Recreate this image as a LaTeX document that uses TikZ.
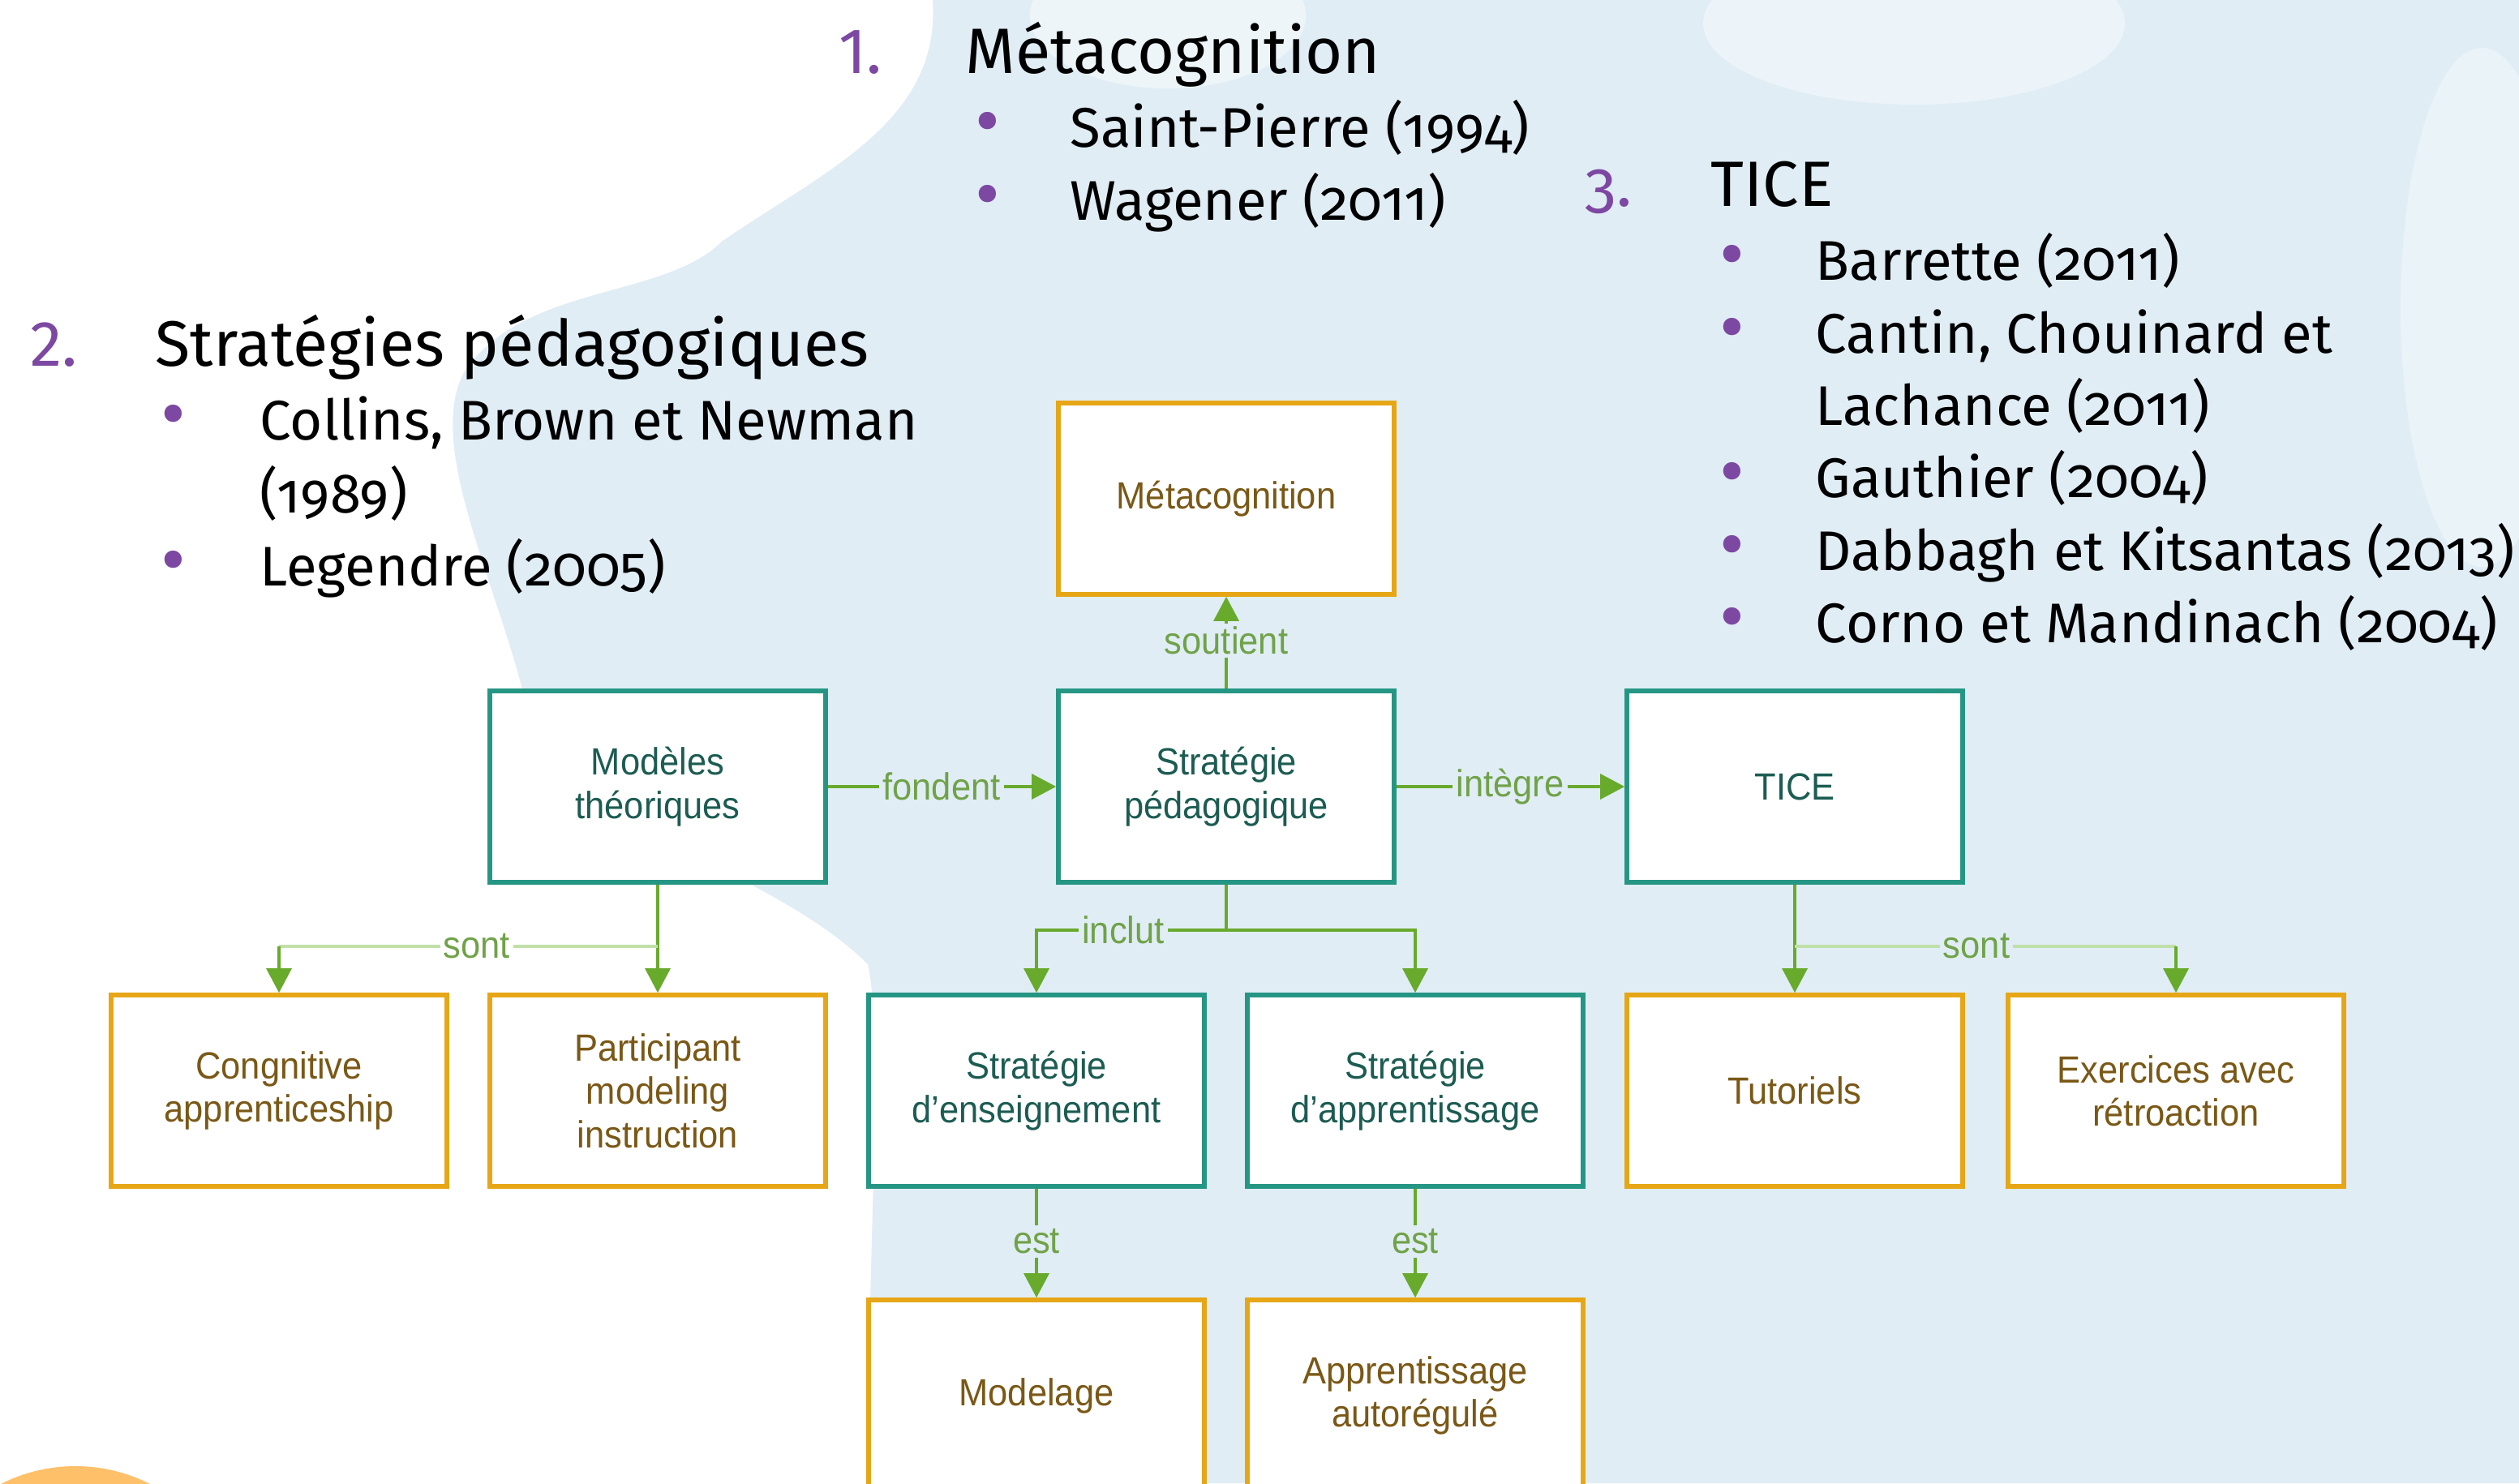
\documentclass[tikz,border=0pt]{standalone}
\usepackage{xcolor}
\usepackage{fontspec}
\usepackage{tikz}
\usetikzlibrary{arrows.meta}

\newfontfamily\listfont{Fira Sans}
\newfontfamily\listfontold[Numbers=OldStyle]{Fira Sans}
\newfontfamily\boxfont[FakeStretch=0.93]{Liberation Sans}

\definecolor{bgblue}{RGB}{224,237,245}
\definecolor{listpurple}{RGB}{125,72,162}
\definecolor{tealline}{RGB}{38,150,132}
\definecolor{tealtext}{RGB}{28,92,82}
\definecolor{goldline}{RGB}{230,166,22}
\definecolor{goldtext}{RGB}{122,88,22}
\definecolor{linkgreen}{RGB}{104,170,44}
\definecolor{palegreen}{RGB}{192,224,168}
\definecolor{labelgreen}{RGB}{112,162,72}
\definecolor{sunorange}{RGB}{255,192,106}

\tikzset{
	tealbox/.style={draw=tealline,line width=1.6pt,fill=white,minimum width=4.14cm,minimum height=2.36cm,inner sep=2pt,align=center,text=tealtext,font=\boxfont\fontsize{13.3}{15.2}\selectfont},
	goldbox/.style={tealbox,draw=goldline,text=goldtext},
	link/.style={draw=linkgreen,line width=0.9pt},
	tolink/.style={link,-{Triangle[length=0.3cm,width=0.31cm]}},
	palelink/.style={draw=palegreen,line width=1.3pt},
	linklabel/.style={text=labelgreen,inner sep=1pt,font=\boxfont\fontsize{13.3}{15.2}\selectfont},
	listnum/.style={anchor=base west,inner sep=0pt,text=listpurple,font=\listfont\fontsize{22.5}{28}\selectfont},
	listhead/.style={anchor=base west,inner sep=0pt,font=\listfont\fontsize{22.5}{28}\selectfont},
	listbullet/.style={anchor=base west,inner sep=0pt,text=listpurple,font=\listfont\fontsize{27}{25}\selectfont},
	listitem/.style={anchor=base west,inner sep=0pt,font=\listfontold\fontsize{19.6}{25}\selectfont}
}

\begin{document}
\begin{tikzpicture}
				\clip (0,0) rectangle (31.06,18.29);
				\fill[white] (0,0) rectangle (31.06,18.29);
				\fill[bgblue] (11.5,18.29) -- (31.06,18.29) -- (31.06,0) -- (10.70,0) .. controls (10.70,3) and (10.9,5.5) .. (10.70,6.40) .. controls (9.5,7.6) and (6.8,8.2) .. (6.54,9.38) .. controls (6.2,11) and (5.2,12.8) .. (5.74,13.73) .. controls (6.5,14.8) and (8.2,14.6) .. (8.91,15.32) .. controls (10.2,16.2) and (11.6,16.8) .. (11.5,18.29) -- cycle;
				\fill[white,opacity=0.45] (14.4,18.1) ellipse (1.7 and 0.9);
				\fill[white,opacity=0.4] (23.6,18.0) ellipse (2.6 and 1.0);
				\fill[white,opacity=0.35] (30.6,14.5) ellipse (1.0 and 3.2);
				\fill[white,opacity=0.4] (8.0,1.5) ellipse (2.8 and 2.5);
				\fill[sunorange] (0.93,-1.82) circle (2.03);

				\node [listnum] (n1) at (10.34,17.38) {1.};
				\node [listhead] (h1) at (11.90,17.38) {Métacognition};
				\node [listbullet] (b1a) at (12.02,16.47) {•};
				\node [listitem] (i1a) at (13.19,16.47) {Saint-Pierre (1994)};
				\node [listbullet] (b1b) at (12.02,15.57) {•};
				\node [listitem] (i1b) at (13.19,15.57) {Wagener (2011)};

				\node [listnum] (n2) at (0.37,13.77) {2.};
				\node [listhead] (h2) at (1.91,13.77) {Stratégies pédagogiques};
				\node [listbullet] (b2a) at (1.98,12.86) {•};
				\node [listitem] (i2a) at (3.20,12.86) {Collins, Brown et Newman};
				\node [listitem] (i2b) at (3.20,11.96) {(1989)};
				\node [listbullet] (b2c) at (1.98,11.06) {•};
				\node [listitem] (i2c) at (3.20,11.06) {Legendre (2005)};

				\node [listnum,font=\listfontold\fontsize{22.5}{28}\selectfont] (n3) at (19.54,15.74) {3.};
				\node [listhead] (h3) at (21.09,15.74) {TICE};
				\node [listbullet] (b3a) at (21.20,14.83) {•};
				\node [listitem] (i3a) at (22.38,14.83) {Barrette (2011)};
				\node [listbullet] (b3b) at (21.20,13.93) {•};
				\node [listitem] (i3b) at (22.38,13.93) {Cantin, Chouinard et};
				\node [listitem] (i3c) at (22.38,13.04) {Lachance (2011)};
				\node [listbullet] (b3d) at (21.20,12.15) {•};
				\node [listitem] (i3d) at (22.38,12.15) {Gauthier (2004)};
				\node [listbullet] (b3e) at (21.20,11.25) {•};
				\node [listitem] (i3e) at (22.38,11.25) {Dabbagh et Kitsantas (2013)};
				\node [listbullet] (b3f) at (21.20,10.36) {•};
				\node [listitem] (i3f) at (22.38,10.36) {Corno et Mandinach (2004)};

				\node [goldbox] (meta) at (15.12,12.14) {Métacognition};
				\node [tealbox] (modeles) at (8.11,8.59) {Modèles\\théoriques};
				\node [tealbox] (strped) at (15.12,8.59) {Stratégie\\pédagogique};
				\node [tealbox] (tice) at (22.13,8.59) {TICE};
				\node [goldbox] (cogapp) at (3.44,4.84) {Congnitive\\apprenticeship};
				\node [goldbox] (partmod) at (8.11,4.84) {Participant\\modeling\\instruction};
				\node [tealbox] (strens) at (12.78,4.84) {Stratégie\\d’enseignement};
				\node [tealbox] (strapp) at (17.45,4.84) {Stratégie\\d’apprentissage};
				\node [goldbox] (tuto) at (22.13,4.84) {Tutoriels};
				\node [goldbox] (exer) at (26.83,4.84) {Exercices avec\\rétroaction};
				\node [goldbox] (modelage) at (12.78,1.08) {Modelage};
				\node [goldbox] (autoreg) at (17.45,1.08) {Apprentissage\\autorégulé};

				\node [linklabel] (lsoutient) at (15.12,10.39) {soutient};
				\node [linklabel] (lfondent) at (11.61,8.59) {fondent};
				\node [linklabel] (lintegre) at (18.62,8.59) {intègre};
				\node [linklabel] (lsontg) at (5.88,6.62) {sont};
				\node [linklabel] (linclut) at (13.85,6.82) {inclut};
				\node [linklabel] (lsontd) at (24.37,6.62) {sont};
				\node [linklabel] (lestg) at (12.78,2.98) {est};
				\node [linklabel] (lestd) at (17.45,2.98) {est};
				\coordinate (bsontg) at (8.11,6.62);
				\coordinate (binclut) at (15.12,6.82);
				\coordinate (bsontd) at (22.13,6.62);

				\draw [link] (strped) -- (lsoutient);
				\draw [tolink] (lsoutient) -- (meta);
				\draw [link] (modeles) -- (lfondent);
				\draw [tolink] (lfondent) -- (strped);
				\draw [link] (strped) -- (lintegre);
				\draw [tolink] (lintegre) -- (tice);

				\draw [tolink] (modeles) -- (partmod);
				\draw [palelink] (bsontg) -- (lsontg);
				\draw [palelink] (lsontg) -- (lsontg -| cogapp);
				\draw [tolink] (lsontg -| cogapp) -- (cogapp);

				\draw [link] (strped) -- (binclut);
				\draw [tolink] (binclut) -| (strapp);
				\draw [link] (binclut) -- (linclut);
				\draw [tolink] (linclut) -| (strens);

				\draw [tolink] (tice) -- (tuto);
				\draw [palelink] (bsontd) -- (lsontd);
				\draw [palelink] (lsontd) -- (lsontd -| exer);
				\draw [tolink] (lsontd -| exer) -- (exer);

				\draw [link] (strens) -- (lestg);
				\draw [tolink] (lestg) -- (modelage);
				\draw [link] (strapp) -- (lestd);
				\draw [tolink] (lestd) -- (autoreg);
			\end{tikzpicture}
\end{document}
